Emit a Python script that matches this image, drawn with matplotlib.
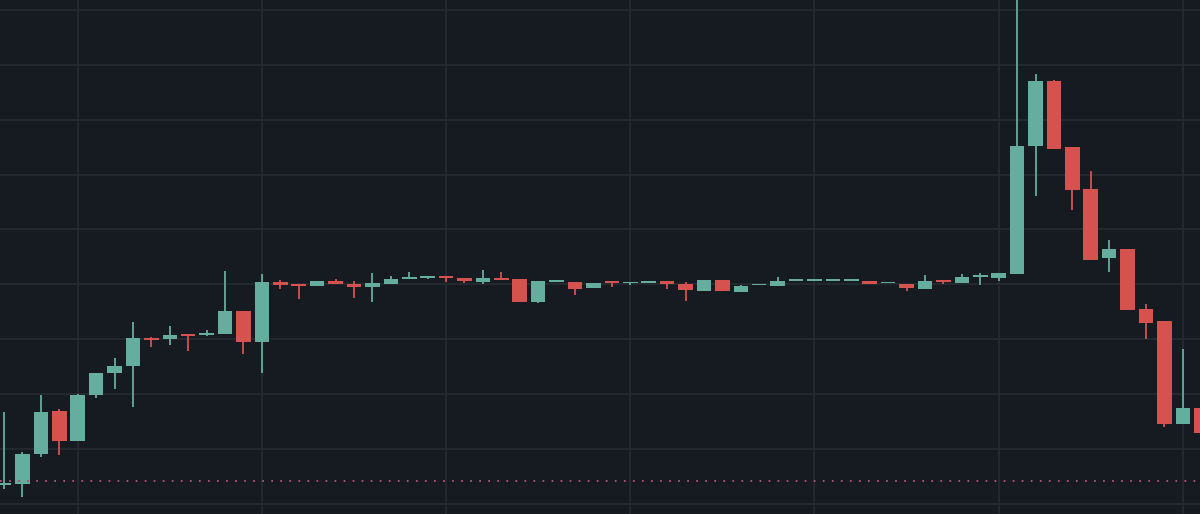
import matplotlib.pyplot as plt
import numpy as np

# OHLC (arbitrary price units, grid step 0.1)
opens = [1.035, 1.036, 1.091, 1.169, 1.115, 1.199, 1.239, 1.251, 1.302, 1.301,
         1.310, 1.308, 1.310, 1.352, 1.295, 1.404, 1.401, 1.397, 1.406, 1.401,
         1.395, 1.401, 1.410, 1.412, 1.413, 1.412, 1.404, 1.412, 1.410, 1.368,
         1.405, 1.404, 1.393, 1.404, 1.402, 1.403, 1.406, 1.401, 1.388, 1.408,
         1.386, 1.398, 1.397, 1.406, 1.406, 1.406, 1.406, 1.406, 1.402, 1.401,
         1.392, 1.408, 1.403, 1.414, 1.412, 1.419, 1.652, 1.770, 1.650, 1.574,
         1.448, 1.464, 1.355, 1.333, 1.146, 1.175]
highs = [1.168, 1.095, 1.199, 1.173, 1.200, 1.239, 1.266, 1.332, 1.304, 1.324,
         1.310, 1.317, 1.424, 1.352, 1.419, 1.408, 1.401, 1.406, 1.410, 1.406,
         1.421, 1.415, 1.423, 1.413, 1.413, 1.412, 1.426, 1.423, 1.410, 1.406,
         1.406, 1.404, 1.403, 1.404, 1.404, 1.404, 1.406, 1.404, 1.408, 1.408,
         1.399, 1.399, 1.413, 1.408, 1.407, 1.407, 1.407, 1.406, 1.403, 1.401,
         1.417, 1.408, 1.419, 1.421, 1.421, 1.954, 1.783, 1.772, 1.650, 1.607,
         1.481, 1.464, 1.364, 1.333, 1.282, 1.175]
lows = [1.027, 1.013, 1.086, 1.089, 1.115, 1.193, 1.209, 1.177, 1.286, 1.290,
        1.279, 1.306, 1.310, 1.273, 1.239, 1.392, 1.373, 1.397, 1.401, 1.375,
        1.368, 1.401, 1.410, 1.410, 1.404, 1.403, 1.401, 1.408, 1.368, 1.366,
        1.405, 1.381, 1.393, 1.395, 1.399, 1.403, 1.392, 1.370, 1.388, 1.388,
        1.386, 1.398, 1.397, 1.406, 1.406, 1.406, 1.406, 1.401, 1.402, 1.388,
        1.392, 1.401, 1.403, 1.399, 1.406, 1.419, 1.561, 1.647, 1.536, 1.444,
        1.423, 1.353, 1.301, 1.140, 1.146, 1.129]
closes = [1.036, 1.091, 1.168, 1.115, 1.199, 1.239, 1.251, 1.302, 1.299, 1.308,
          1.306, 1.310, 1.352, 1.295, 1.404, 1.399, 1.397, 1.406, 1.401, 1.395,
          1.403, 1.410, 1.412, 1.413, 1.412, 1.406, 1.412, 1.408, 1.368, 1.406,
          1.406, 1.392, 1.403, 1.403, 1.403, 1.404, 1.401, 1.390, 1.408, 1.388,
          1.397, 1.399, 1.406, 1.407, 1.407, 1.407, 1.407, 1.401, 1.403, 1.393,
          1.406, 1.404, 1.413, 1.415, 1.421, 1.652, 1.770, 1.647, 1.572, 1.444,
          1.464, 1.353, 1.330, 1.146, 1.175, 1.129]
marker_price = 1.042

bg = '#161a21'
up_color = '#65ad9f'
down_color = '#d5524e'

fig = plt.figure(figsize=(12, 5.14), dpi=100, facecolor=bg)
ax = fig.add_axes([0, 0, 1, 1], facecolor=bg)

o = np.array(opens)
h = np.array(highs)
l = np.array(lows)
c = np.array(closes)
x = np.arange(len(o))
colors = [up_color if cc >= oo else down_color for oo, cc in zip(o, c)]

# wicks
ax.vlines(x, l, h, colors=colors, linewidth=1.3, zorder=3)

# bodies (minimum height so flat candles still show as a line)
bottom = np.minimum(o, c)
height = np.maximum(np.abs(c - o), 0.003)
ax.bar(x, height, bottom=bottom, width=0.79, color=colors, linewidth=0, zorder=4)

# dotted price line
ax.axhline(marker_price, color='#b04f6e', linestyle=(0, (0.9, 3.75)), linewidth=1.4, zorder=5)

# grid
ax.set_xticks(np.arange(4, len(o), 10))
ax.set_yticks(np.arange(1.0, 1.95, 0.1))
ax.grid(True, color='#282c33', linewidth=1.1)
ax.set_axisbelow(True)
ax.tick_params(length=0, labelbottom=False, labelleft=False)
for s in ax.spines.values():
    s.set_visible(False)

ax.set_xlim(-0.217, 64.93)
ax.set_ylim(1 - 10 / 549, 1 + 504 / 549)

plt.savefig('out.png', dpi=100, facecolor=bg)
